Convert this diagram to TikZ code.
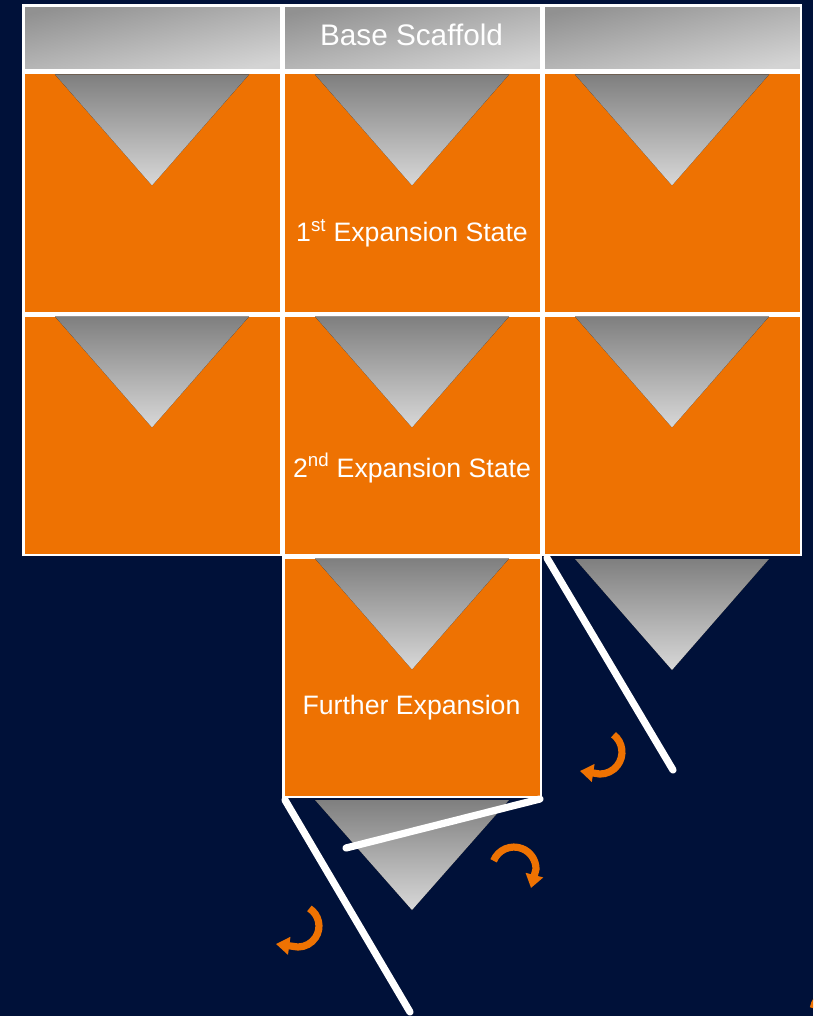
\documentclass[tikz,border=0pt]{standalone}
\usepackage{fontspec}
\setmainfont{Liberation Sans}
\usetikzlibrary{arrows.meta}

\definecolor{navy}{RGB}{0,17,57}
\definecolor{tangerine}{RGB}{238,114,2}
\definecolor{wedgetop}{RGB}{127,127,127}
\definecolor{wedgebot}{RGB}{216,216,216}
\definecolor{scafdark}{RGB}{145,145,145}
\definecolor{scaflight}{RGB}{212,212,212}

\tikzset{every picture/.style={line width=0.75pt}}

\begin{document}
\begin{tikzpicture}[x=0.75pt,y=0.75pt,yscale=-1,xscale=1,
	cell/.style={draw=white, line width=1.875pt, fill=tangerine, inner sep=0pt, minimum width=193.125pt, minimum height=179.625pt},
	scaf/.style={cell, fill=none, minimum height=49.1pt, top color=scafdark, bottom color=scaflight, shading angle=12},
	wedge/.style={top color=wedgetop, bottom color=wedgebot, draw=none},
	hinge/.style={draw=white, line width=5.4pt, line cap=round},
	turn/.style={draw=tangerine, line width=5.4pt, -{Triangle[length=10pt,width=13pt]}},
	celltext/.style={text=white, inner sep=0.75pt, anchor=base, font=\fontsize{20}{24}\selectfont}]
	%set diagram left start at 0, and has height of 1016
	\path [use as bounding box] (0,0) rectangle (813,1016);
	\fill [navy] (0,0) rectangle (813,1016);
	\clip (0,0) rectangle (813,1016);
	
	%Shape: Rectangle -- base scaffold row
	\node [scaf] (scafL) at (152,38) {};
	\node [scaf] (scafM) at (412,38) {};
	\node [scaf] (scafR) at (672,38) {};
	%Shape: Rectangle -- first expansion row
	\node [cell] (stateAL) at (152,193) {};
	\node [cell] (stateAM) at (412,193) {};
	\node [cell] (stateAR) at (672,193) {};
	%Shape: Rectangle -- second expansion row
	\node [cell] (stateBL) at (152,435) {};
	\node [cell] (stateBM) at (412,435) {};
	\node [cell] (stateBR) at (672,435) {};
	%Shape: Rectangle -- further expansion
	\node [cell] (further) at (412,677) {};
	
	%Shape: Triangle 
	\fill [wedge] (55,74.5) -- (249,74.5) -- (152,185.5) -- cycle ;
	%Shape: Triangle 
	\fill [wedge] (315,74.5) -- (509,74.5) -- (412,185.5) -- cycle ;
	%Shape: Triangle 
	\fill [wedge] (575,74.5) -- (769,74.5) -- (672,185.5) -- cycle ;
	%Shape: Triangle 
	\fill [wedge] (55,316.5) -- (249,316.5) -- (152,427.5) -- cycle ;
	%Shape: Triangle 
	\fill [wedge] (315,316.5) -- (509,316.5) -- (412,427.5) -- cycle ;
	%Shape: Triangle 
	\fill [wedge] (575,316.5) -- (769,316.5) -- (672,427.5) -- cycle ;
	%Shape: Triangle 
	\fill [wedge] (315,558.5) -- (509,558.5) -- (412,669.5) -- cycle ;
	%Shape: Triangle 
	\fill [wedge] (575,559) -- (769,559) -- (672,670) -- cycle ;
	%Shape: Triangle 
	\fill [wedge] (315,800) -- (509,800) -- (412,910) -- cycle ;
	
	%Straight Lines -- unfolded edges
	\coordinate (hingeRtop) at (547,558);
	\coordinate (hingeRend) at (673,770);
	\coordinate (hingeLtop) at (285,800);
	\coordinate (hingeLend) at (410,1012);
	\coordinate (hingeBtop) at (540,799);
	\coordinate (hingeBend) at (346,848);
	\draw [hinge] (hingeRtop) -- (hingeRend) ;
	\draw [hinge] (hingeLtop) -- (hingeLend) ;
	\draw [hinge] (hingeBtop) -- (hingeBend) ;
	
	%Curve Lines -- turning arrows
	\draw [turn] (613.5,734.7) arc (-52:90:22) -- (580,771) ;
	\draw [turn] (493.6,860.8) arc (-158:0:22) -- (531,888) ;
	\draw [turn] (309.4,908.4) arc (-57:90:21) -- (276,944) ;
	\draw [draw=tangerine, line width=5.4pt] (813.3,1008.2) arc (190:215:22) ;
	
	% Text Node
	\node [celltext, font=\fontsize{22.3}{26}\selectfont] (txtscaf) at (411.5,46) {Base Scaffold};
	% Text Node
	\node [celltext] (txtfirst) at (412,242) {1\textsuperscript{st} Expansion State};
	% Text Node
	\node [celltext] (txtsecond) at (412,477) {2\textsuperscript{nd} Expansion State};
	% Text Node
	\node [celltext] (txtfurther) at (411.5,714) {Further Expansion};
	
\end{tikzpicture}
\end{document}
